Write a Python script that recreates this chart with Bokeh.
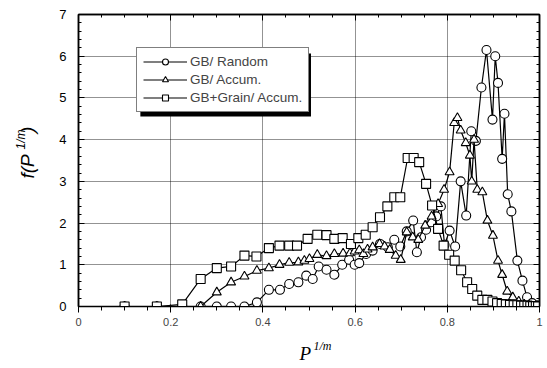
from bokeh.plotting import figure
from bokeh.models import (Range1d, LinearAxis, FixedTicker, CustomJSTickFormatter,
                          Legend, LegendItem, Title, BoxAnnotation)
from bokeh.embed import file_html
from bokeh.resources import INLINE

# ---------------- data ----------------
x_ticks = [0, 0.2, 0.4, 0.6, 0.8, 1.0]
y_ticks = [0, 1, 2, 3, 4, 5, 6, 7]

labels = ["GB/ Random", "GB/ Accum.", "GB+Grain/ Accum."]

x_random = [0.10, 0.17, 0.225, 0.265, 0.30, 0.331, 0.36, 0.387, 0.413, 0.437,
            0.457, 0.477, 0.494, 0.508, 0.521, 0.538, 0.555, 0.572, 0.587, 0.599,
            0.609, 0.624, 0.638, 0.654, 0.671, 0.685, 0.698, 0.712, 0.726, 0.734,
            0.743, 0.754, 0.765, 0.776, 0.786, 0.794, 0.805, 0.817, 0.829, 0.841,
            0.852, 0.862, 0.874, 0.885, 0.898, 0.904, 0.910, 0.919, 0.924, 0.931,
            0.939, 0.952, 0.963, 0.973, 0.984, 0.995]
y_random = [0, 0, 0, 0, 0, 0, 0, 0.1, 0.4, 0.4,
            0.54, 0.58, 0.74, 0.66, 0.96, 0.88, 0.76, 1.0, 1.12, 1.0,
            1.04, 1.26, 1.34, 1.5, 1.42, 1.6, 1.44, 1.8, 2.06, 1.3,
            1.66, 1.84, 2.02, 2.16, 2.4, 1.48, 1.82, 1.44, 3.0, 2.18,
            4.2, 3.97, 5.25, 6.15, 4.48, 6.0, 5.36, 3.54, 4.62, 2.69,
            2.28, 1.1, 0.62, 0.22, 0.08, 0.03]

x_accum = [0.10, 0.17, 0.225, 0.265, 0.30, 0.331, 0.36, 0.387, 0.413, 0.436,
           0.457, 0.477, 0.490, 0.501, 0.518, 0.538, 0.555, 0.574, 0.589, 0.599,
           0.609, 0.618, 0.627, 0.638, 0.653, 0.664, 0.675, 0.688, 0.699, 0.712,
           0.725, 0.737, 0.752, 0.766, 0.780, 0.793, 0.805, 0.815, 0.822, 0.829,
           0.840, 0.849, 0.853, 0.858, 0.865, 0.876, 0.887, 0.899, 0.910, 0.919,
           0.930, 0.942, 0.955, 0.967, 0.978, 0.988, 0.997]
y_accum = [0, 0, 0, 0, 0.34, 0.58, 0.72, 0.86, 0.92, 1.0,
           1.05, 1.06, 1.10, 1.14, 1.24, 1.21, 1.26, 1.27, 1.28, 1.32,
           1.35, 1.26, 1.37, 1.42, 1.5, 1.44, 1.36, 1.22, 1.12, 1.78,
           1.66, 1.6, 1.94, 2.16, 2.46, 2.8, 3.22, 4.4, 4.52, 4.22,
           3.92, 3.62, 3.0, 4.0, 2.8, 2.74, 2.06, 1.7, 1.1, 0.76,
           0.36, 0.22, 0.12, 0.05, 0.02, 0.0, 0.0]

x_grain = [0.10, 0.17, 0.225, 0.265, 0.30, 0.331, 0.36, 0.386, 0.413, 0.436,
           0.457, 0.474, 0.497, 0.518, 0.538, 0.555, 0.573, 0.591, 0.607, 0.623,
           0.638, 0.654, 0.670, 0.685, 0.698, 0.714, 0.727, 0.739, 0.754, 0.767,
           0.780, 0.792, 0.804, 0.816, 0.830, 0.843, 0.854, 0.865, 0.876, 0.887,
           0.898, 0.908, 0.918, 0.927, 0.936, 0.944, 0.952, 0.960, 0.967, 0.974,
           0.980, 0.986, 0.992, 0.997]
y_grain = [0, 0, 0.05, 0.66, 0.92, 0.96, 1.22, 1.2, 1.4, 1.46,
           1.46, 1.46, 1.62, 1.72, 1.71, 1.62, 1.64, 1.5, 1.64, 1.72,
           1.9, 2.14, 2.4, 2.62, 2.62, 3.56, 3.56, 3.46, 2.94, 2.42,
           1.86, 1.46, 1.24, 1.1, 0.87, 0.58, 0.42, 0.26, 0.16, 0.16,
           0.12, 0.08, 0.06, 0.05, 0.04, 0.03, 0.03, 0.02, 0.02, 0.02,
           0.01, 0.01, 0.01, 0.0]

# ---------------- layout ----------------
W, H = 547, 368
BL, BR, BT, BB = 77, 8, 14, 62
FW, FH = W - BL - BR, H - BT - BB
X0, X1, Y0, Y1 = 0, 1, 0, 7

def dx(px):
    return X0 + (px - BL) / FW * (X1 - X0)

def dy(py):
    return Y0 + (BT + FH - py) / FH * (Y1 - Y0)

p = figure(width=W, height=H, x_range=Range1d(X0, X1), y_range=Range1d(Y0, Y1),
           output_backend="svg", toolbar_location=None,
           min_border_left=BL, min_border_right=BR, min_border_top=BT, min_border_bottom=BB)
p.background_fill_color = "white"
p.border_fill_color = "white"
p.outline_line_color = "black"
p.outline_line_width = 1.5

xt = FixedTicker(ticks=x_ticks, minor_ticks=[i * 0.05 for i in range(21)])
yt = FixedTicker(ticks=y_ticks, minor_ticks=[i * 0.2 for i in range(36)])
fmt = CustomJSTickFormatter(code="return String(Math.round(tick*10)/10);")

p.xaxis[0].ticker = xt
p.yaxis[0].ticker = yt
p.xaxis[0].formatter = fmt
p.yaxis[0].formatter = fmt
top_ax = LinearAxis(ticker=xt)
right_ax = LinearAxis(ticker=yt)
p.add_layout(top_ax, "above")
p.add_layout(right_ax, "right")

for ax in [p.xaxis[0], p.yaxis[0], top_ax, right_ax]:
    ax.axis_line_color = "black"
    ax.axis_line_width = 1.5
    ax.major_tick_in = 6
    ax.major_tick_out = 0
    ax.minor_tick_in = 3
    ax.minor_tick_out = 0
    ax.major_tick_line_color = "black"
    ax.minor_tick_line_color = "black"
    ax.major_tick_line_width = 1
    ax.minor_tick_line_width = 1
    ax.major_label_text_font = "Liberation Sans"
    ax.major_label_text_font_size = "13px"
    ax.major_label_text_color = "black"
for ax in [top_ax, right_ax]:
    ax.major_label_text_font_size = "0px"
    ax.major_label_standoff = 0
    ax.formatter = CustomJSTickFormatter(code="return '';")
p.xaxis[0].major_label_standoff = 9
p.yaxis[0].major_label_standoff = 12

p.xgrid.ticker = xt
p.ygrid.ticker = yt
for g in [p.xgrid, p.ygrid]:
    g.grid_line_color = "black"
    g.grid_line_dash = "1 1"
    g.grid_line_width = 1
    g.grid_line_alpha = 0.85

series = [(x_random, y_random, "circle"),
          (x_accum, y_accum, "triangle"),
          (x_grain, y_grain, "square")]
items = []
for (xs, ys, mk), lab in zip(series, labels):
    ln = p.line(xs, ys, line_color="black", line_width=1.2)
    sc = p.scatter(xs, ys, marker=mk, size=9, fill_color="white",
                   line_color="black", line_width=1.1)
    items.append(LegendItem(label=lab, renderers=[ln, sc]))

# legend with drop shadow
LEG_L, LEG_T, LEG_R, LEG_B = 135, 49, 306, 112
SH = 4
shadow = BoxAnnotation(left=dx(LEG_L + SH), right=dx(LEG_R + SH),
                       top=dy(LEG_T + SH), bottom=dy(LEG_B + SH),
                       fill_color="black", fill_alpha=1, line_color=None)
p.add_layout(shadow)
leg = Legend(items=items, location=(LEG_L - BL, BT + FH - LEG_B))
leg.border_line_color = "black"
leg.border_line_width = 1.5
leg.background_fill_color = "white"
leg.background_fill_alpha = 1
leg.label_text_font = "Liberation Sans"
leg.label_text_font_size = "13.5px"
leg.glyph_width = 44
leg.glyph_height = 15
leg.label_height = 15
leg.label_standoff = 3
leg.spacing = 3
leg.padding = 6
leg.margin = 0
p.add_layout(leg)

# axis titles (placed in side panels so they are drawn outside the frame)
def title(text, size, font, offset, standoff, valign="top"):
    return Title(text=text, text_font=font, text_font_style="italic",
                 text_font_size=size, text_color="black", align="left",
                 vertical_align=valign, offset=offset, standoff=standoff)

NB = "\u00a0"
p.add_layout(title("1/m", "12px", "Liberation Serif", 312 - BL, 20), "below")
p.add_layout(title("P", "19px", "Liberation Serif", 298 - BL, -44), "below")
p.add_layout(title("f(P" + NB * 4 + ")", "19px", "Liberation Sans", BT + FH - 178, 33), "left")
p.add_layout(title("1/m", "12px", "Liberation Sans", BT + FH - 149, -55, "bottom"), "left")

open("out.html", "w").write(file_html(p, INLINE))
